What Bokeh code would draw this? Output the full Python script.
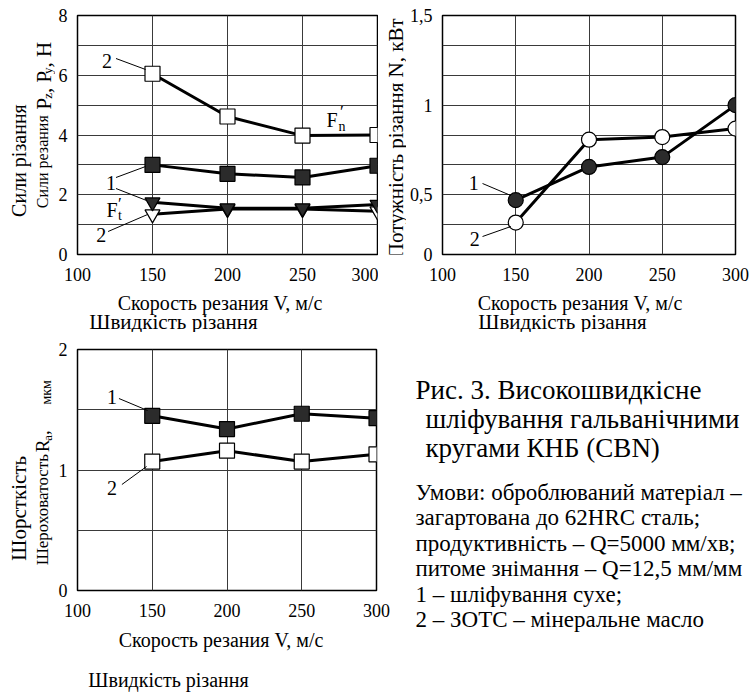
import math
from bokeh.plotting import figure
from bokeh.layouts import column, row
from bokeh.models import FixedTicker, Range1d, Label, CustomJSTickFormatter
from bokeh.embed import file_html
from bokeh.resources import INLINE

# ---------------- data ----------------
speed = [150, 200, 250, 300]
x_ticks = [100, 150, 200, 250, 300]

# cutting forces, N
fn_wet = [6.05, 4.62, 3.98, 4.0]     # 2 - open squares (F'n)
fn_dry = [3.0, 2.7, 2.58, 2.97]      # 1 - filled squares
ft_wet = [1.35, 1.52, 1.52, 1.45]    # 2 - open triangles (F't)
ft_dry = [1.75, 1.55, 1.55, 1.67]    # 1 - filled triangles
force_ticks = [0, 2, 4, 6, 8]

# cutting power, kW
pw_dry = [0.47, 0.655, 0.71, 1.0]      # 1 - filled circles
pw_wet = [0.345, 0.807, 0.822, 0.869]  # 2 - open circles
power_ticks = [1 / 6, 0.5, 1.0, 1.5]

# roughness Ra, um
ra_dry = [1.45, 1.34, 1.467, 1.43]   # 1 - filled squares
ra_wet = [1.07, 1.16, 1.07, 1.13]    # 2 - open squares
ra_ticks = [0, 1, 2]

FONT = "Liberation Serif"
DARK = "#2b2b2b"
GRID = "#3a3a3a"
UP = math.pi / 2


def conv_factory(fx0, fx1, fy0, fy1, x0, x1, y0, y1):
    # image pixel -> data coordinate for a given frame
    def conv(xi, yi):
        return (x0 + (xi - fx0) * (x1 - x0) / (fx1 - fx0),
                y0 + (fy0 - yi) * (y1 - y0) / (fy0 - fy1))
    return conv


def make_fig(width, height, xr, yr, bl, br, bt, bb, yticks, ygrid):
    p = figure(width=width, height=height, x_range=Range1d(*xr), y_range=Range1d(*yr),
               output_backend="svg", toolbar_location=None,
               min_border_left=bl, min_border_right=br, min_border_top=bt, min_border_bottom=bb)
    p.background_fill_color = "white"
    p.border_fill_color = "white"
    p.outline_line_color = "black"
    p.outline_line_width = 1.5
    p.xaxis.ticker = FixedTicker(ticks=x_ticks)
    p.yaxis.ticker = FixedTicker(ticks=yticks)
    p.xgrid.ticker = FixedTicker(ticks=x_ticks)
    p.ygrid.ticker = FixedTicker(ticks=ygrid)
    p.grid.grid_line_color = GRID
    p.grid.grid_line_width = 1
    p.axis.axis_line_color = None
    p.axis.major_tick_line_color = None
    p.axis.minor_tick_line_color = None
    p.axis.major_label_text_font = FONT
    p.axis.major_label_text_font_size = "18px"
    p.axis.major_label_text_color = "black"
    p.xaxis.major_label_standoff = 7
    p.yaxis.major_label_standoff = 4
    return p


def text_fig(ox, oy, w, h):
    # a blank canvas whose data units are image pixels (y downward)
    p = figure(width=w, height=h, x_range=Range1d(0, w), y_range=Range1d(h, 0),
               output_backend="svg", toolbar_location=None, min_border=0,
               x_axis_location=None, y_axis_location=None)
    p.grid.visible = False
    p.outline_line_color = None
    p.background_fill_color = "white"
    p.border_fill_color = "white"
    return p, (lambda xi, yi: (xi - ox, yi - oy))


def txt(p, conv, xi, yi, text, size, angle=0.0, align="center", baseline="middle"):
    x, y = conv(xi, yi)
    p.add_layout(Label(x=x, y=y, text=text, text_font=FONT, text_font_size=f"{size}px",
                       text_color="black", angle=angle, text_align=align,
                       text_baseline=baseline))


def leader(p, conv, a, b):
    x0, y0 = conv(*a)
    x1, y1 = conv(*b)
    p.segment(x0=[x0], y0=[y0], x1=[x1], y1=[y1], line_color="black", line_width=1)


# ---------------- A: forces ----------------
# canvas x 55..378, y 0..290; frame x 73..377, y 15..254
pa = make_fig(323, 290, (100, 300), (0, 8), 18, 1, 15, 36, force_ticks, list(range(9)))
ca = conv_factory(73, 377, 254, 15, 100, 300, 0, 8)

pa.line(speed, fn_wet, line_color="black", line_width=3)
pa.scatter(speed, fn_wet, marker="square", size=15, fill_color="white", line_color="black", line_width=1.2)
pa.line(speed, fn_dry, line_color="black", line_width=3)
pa.scatter(speed, fn_dry, marker="square", size=15, fill_color=DARK, line_color="black", line_width=1.2)
pa.line(speed, ft_wet, line_color="black", line_width=3)
pa.scatter(speed, ft_wet, marker="inverted_triangle", size=15, fill_color="white", line_color="black", line_width=1.2)
pa.line(speed, ft_dry, line_color="black", line_width=3)
pa.scatter(speed, ft_dry, marker="inverted_triangle", size=15, fill_color=DARK, line_color="black", line_width=1.2)

txt(pa, ca, 103, 60, "2", 20)
leader(pa, ca, (112, 58), (142, 69))
txt(pa, ca, 331, 119, "F", 20)
txt(pa, ca, 341, 126, "n", 14)
txt(pa, ca, 341, 111, "′", 17)
txt(pa, ca, 107, 182, "1", 20)
leader(pa, ca, (112, 177), (142, 166))
leader(pa, ca, (112, 188), (143, 200))
txt(pa, ca, 108, 209, "F", 20)
txt(pa, ca, 116, 215, "t", 14)
txt(pa, ca, 116, 203, "′", 17)
txt(pa, ca, 97, 234, "2", 20)
leader(pa, ca, (104, 231), (144, 214))

# y title of A: canvas x 0..55, y 0..290
ta, cta = text_fig(0, 0, 55, 290)
txt(ta, cta, 18, 176, "Сили різання", 20, angle=UP)
txt(ta, cta, 42, 121, "Сили резания", 16, angle=UP, align="right")
txt(ta, cta, 43, 114, "P", 21, angle=UP, align="left")
txt(ta, cta, 47, 101, "z", 13, angle=UP, align="left")
txt(ta, cta, 43, 94, ", P", 21, angle=UP, align="left")
txt(ta, cta, 47, 71, "y", 13, angle=UP, align="left")
txt(ta, cta, 43, 63, ", H", 21, angle=UP, align="left")

# ---------------- B: power ----------------
# canvas x 406..753, y 0..290; frame x 435..735, y 15..254
pb = make_fig(347, 290, (100, 300), (1 / 6, 1.5), 29, 18, 15, 36, power_ticks,
              [k / 6 for k in range(1, 10)])
pb.yaxis.formatter = CustomJSTickFormatter(
    code="if (tick < 0.3) { return '0'; } return tick.toString().replace('.', ',');")
cb = conv_factory(435, 735, 254, 15, 100, 300, 1 / 6, 1.5)

pb.line(speed, pw_wet, line_color="black", line_width=3)
pb.scatter(speed, pw_wet, marker="circle", size=15, fill_color="white", line_color="black", line_width=1.2)
pb.line(speed, pw_dry, line_color="black", line_width=3)
pb.scatter(speed, pw_dry, marker="circle", size=15, fill_color=DARK, line_color="black", line_width=1.2)

txt(pb, cb, 467, 182, "1", 20)
leader(pb, cb, (476, 183), (505, 195))
txt(pb, cb, 468, 238, "2", 20)
leader(pb, cb, (476, 236), (505, 226))

# y title of B: canvas x 378..406
tb, ctb = text_fig(378, 0, 28, 290)
txt(tb, ctb, 395, 149, "Потужність різання N, кВт", 21, angle=UP)

# x titles of top row: canvas x 0..753, y 290..332
xt1, cxt1 = text_fig(0, 290, 753, 42)
txt(xt1, cxt1, 222, 302, "Скорость резания V,  м/с", 20)
txt(xt1, cxt1, 173, 321, "Швидкість різання", 21)
txt(xt1, cxt1, 582, 302, "Скорость резания V,  м/с", 20)
txt(xt1, cxt1, 562, 321, "Швидкість різання", 21)

# ---------------- C: roughness ----------------
# canvas x 55..400, y 332..625; frame x 73..376, y 349..590
pc = make_fig(345, 293, (100, 300), (0, 2), 18, 24, 17, 35, ra_ticks, [0, 0.5, 1, 1.5, 2])
cc = conv_factory(73, 376, 590, 349, 100, 300, 0, 2)

pc.line(speed, ra_dry, line_color="black", line_width=3)
pc.scatter(speed, ra_dry, marker="square", size=15, fill_color=DARK, line_color="black", line_width=1.2)
pc.line(speed, ra_wet, line_color="black", line_width=3)
pc.scatter(speed, ra_wet, marker="square", size=15, fill_color="white", line_color="black", line_width=1.2)

txt(pc, cc, 108, 396, "1", 20)
leader(pc, cc, (115, 398), (144, 410))
txt(pc, cc, 108, 487, "2", 20)
leader(pc, cc, (118, 484), (143, 466))

# y title of C: canvas x 0..55, y 332..625
tc, ctc = text_fig(0, 332, 55, 293)
txt(tc, ctc, 18, 525, "Шорсткість", 21, angle=UP)
txt(tc, ctc, 42, 459, "Шероховатость", 17, angle=UP, align="right")
txt(tc, ctc, 42, 457, "R", 19, angle=UP, align="left")
txt(tc, ctc, 46.5, 443, "a", 13, angle=UP, align="left")
txt(tc, ctc, 42, 436, " ,", 19, angle=UP, align="left")
txt(tc, ctc, 46, 399, "мкм", 14, angle=UP, align="left")

# x titles of C: canvas x 0..400, y 625..696
xt3, cxt3 = text_fig(0, 625, 400, 71)
txt(xt3, cxt3, 223, 639, "Скорость резания V,  м/с", 20)
txt(xt3, cxt3, 168, 679, "Швидкість різання", 20)

# ---------------- D: caption ----------------
pd, cd = text_fig(400, 332, 353, 364)
title_lines = [(415, 389, "Рис. 3. Високошвидкісне"),
               (425, 418, "шліфування гальванічними"),
               (425, 447, "кругами КНБ (CBN)")]
for xi, yi, t in title_lines:
    txt(pd, cd, xi, yi, t, 27, align="left")

cond_lines = ["Умови: оброблюваний матеріал –",
              "загартована до 62HRC сталь;",
              "продуктивність – Q=5000 мм/хв;",
              "питоме знімання – Q=12,5 мм/мм",
              "1 – шліфування сухе;",
              "2 – ЗОТС – мінеральне масло"]
for i, t in enumerate(cond_lines):
    txt(pd, cd, 415, 492 + i * 25.4, t, 23, align="left")

layout = column(
    row(ta, pa, tb, pb),
    xt1,
    row(column(row(tc, pc), xt3), pd),
)
open("out.html", "w").write(file_html(layout, INLINE))
